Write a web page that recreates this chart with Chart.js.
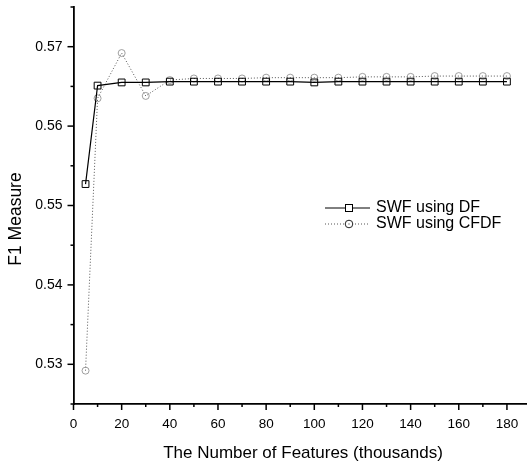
<!DOCTYPE html>
<html>
<head>
<meta charset="utf-8">
<script src="https://cdn.jsdelivr.net/npm/chart.js@4"></script>
<style>
html,body{margin:0;padding:0;background:#fff;}
canvas{display:block;}
</style>
</head>
<body>
<canvas id="c" width="532" height="466"></canvas>
<script>
const features = [5,10,20,30,40,50,60,70,80,90,100,110,120,130,140,150,160,170,180];
const swfDF = [0.5527,0.5651,0.5655,0.5655,0.5656,0.5656,0.5656,0.5656,0.5656,0.5656,0.5655,0.5656,0.5656,0.5656,0.5656,0.5656,0.5656,0.5656,0.5656];
const swfCFDF = [0.5292,0.5635,0.5692,0.5638,0.5658,0.5660,0.5660,0.5660,0.5661,0.5661,0.5661,0.5661,0.5662,0.5662,0.5662,0.5663,0.5663,0.5663,0.5663];
const seriesNames = ['SWF using DF','SWF using CFDF'];
const xTitle = 'The Number of Features (thousands)';
const yTitle = 'F1 Measure';
const xMajorTicks = [0,20,40,60,80,100,120,140,160,180];
const yMajorTicks = [0.53,0.54,0.55,0.56,0.57];

const FONT = '"Liberation Sans", Arial, Helvetica, sans-serif';

const deco = {
  id: 'deco',
  afterDraw(chart) {
    const ctx = chart.ctx;
    const xs = chart.scales.x, ys = chart.scales.y;
    const ca = chart.chartArea;
    ctx.save();
    ctx.strokeStyle = '#000';
    ctx.lineWidth = 1.5;
    // x ticks
    for (let v = 0; v <= 180; v += 10) {
      const px = xs.getPixelForValue(v);
      const major = xMajorTicks.includes(v);
      ctx.beginPath();
      ctx.moveTo(px, ca.bottom);
      ctx.lineTo(px, ca.bottom + (major ? 6 : 3));
      ctx.stroke();
    }
    // y ticks
    for (let i = 0; i <= 10; i++) {
      const v = 0.525 + i * 0.005;
      const py = ys.getPixelForValue(v);
      const major = yMajorTicks.some(t => Math.abs(t - v) < 1e-6);
      ctx.beginPath();
      ctx.moveTo(ca.left, py);
      ctx.lineTo(ca.left - (major ? 6 : 3), py);
      ctx.stroke();
    }
    // titles
    ctx.fillStyle = '#000';
    ctx.font = '17px ' + FONT;
    ctx.textAlign = 'center';
    ctx.textBaseline = 'middle';
    ctx.fillText(xTitle, 303, 453);
    ctx.save();
    ctx.translate(16.5, 219);
    ctx.rotate(-Math.PI / 2);
    ctx.font = '17.5px ' + FONT;
    ctx.fillText(yTitle, 0, 0);
    ctx.restore();
    // legend
    const lx0 = 325, lx1 = 370, mx = 349, rows = [208, 224];
    ctx.lineWidth = 1;
    ctx.strokeStyle = '#000';
    ctx.beginPath();
    ctx.moveTo(lx0, rows[0]); ctx.lineTo(lx1, rows[0]); ctx.stroke();
    ctx.fillStyle = '#fff';
    ctx.fillRect(mx - 3.5, rows[0] - 3.5, 7, 7);
    ctx.strokeRect(mx - 3.5, rows[0] - 3.5, 7, 7);
    ctx.strokeStyle = '#555';
    ctx.setLineDash([1, 2]);
    ctx.beginPath();
    ctx.moveTo(lx0, rows[1]); ctx.lineTo(lx1, rows[1]); ctx.stroke();
    ctx.setLineDash([]);
    ctx.strokeStyle = '#222';
    ctx.beginPath();
    ctx.arc(mx, rows[1], 3.8, 0, Math.PI * 2);
    ctx.fill();
    ctx.stroke();
    ctx.fillStyle = '#222';
    ctx.fillRect(mx - 0.5, rows[1] - 0.5, 1, 1);
    ctx.fillStyle = '#000';
    ctx.font = '16px ' + FONT;
    ctx.textAlign = 'left';
    ctx.textBaseline = 'middle';
    ctx.fillText(seriesNames[0], 376, rows[0]);
    ctx.fillText(seriesNames[1], 376, rows[1]);
    ctx.restore();
  }
};

new Chart(document.getElementById('c'), {
  type: 'line',
  data: {
    datasets: [
      {
        label: seriesNames[0],
        data: features.map((x, i) => ({x: x, y: swfDF[i]})),
        borderColor: '#000',
        borderWidth: 1.2,
        pointStyle: 'rect',
        pointRadius: 4.8,
        pointBorderWidth: 1,
        pointBorderColor: '#000',
        pointBackgroundColor: 'rgba(255,255,255,0)',
        tension: 0,
        fill: false
      },
      {
        label: seriesNames[1],
        data: features.map((x, i) => ({x: x, y: swfCFDF[i]})),
        borderColor: '#555',
        borderWidth: 1,
        borderDash: [1, 2],
        pointStyle: 'circle',
        pointRadius: 3.5,
        pointBorderWidth: 0.8,
        pointBorderColor: '#888',
        pointBackgroundColor: 'rgba(255,255,255,0)',
        tension: 0,
        fill: false
      }
    ]
  },
  options: {
    responsive: false,
    devicePixelRatio: 1,
    animation: false,
    events: [],
    layout: {padding: {left: 0, right: 4, top: 7, bottom: 0}},
    plugins: {legend: {display: false}, tooltip: {enabled: false}},
    scales: {
      x: {
        type: 'linear',
        min: 0,
        max: 188,
        afterFit(s) { s.height = 62; s.paddingLeft = 0; s.paddingRight = 0; },
        border: {display: true, color: '#000', width: 1.8},
        grid: {display: true, drawOnChartArea: false, drawTicks: false, color: 'rgba(0,0,0,0)'},
        ticks: {
          stepSize: 10,
          includeBounds: false,
          autoSkip: false,
          maxRotation: 0,
          padding: 12,
          color: '#000',
          font: {family: FONT, size: 13.5},
          callback: (v) => xMajorTicks.includes(Math.round(v)) && Math.abs(v - Math.round(v)) < 1e-6 ? String(Math.round(v)) : ''
        }
      },
      y: {
        type: 'linear',
        min: 0.525,
        max: 0.575,
        afterFit(s) { s.width = 73.5; s.paddingTop = 0; s.paddingBottom = 0; },
        border: {display: true, color: '#000', width: 1.8},
        grid: {display: true, drawOnChartArea: false, drawTicks: false, color: 'rgba(0,0,0,0)'},
        ticks: {
          stepSize: 0.005,
          includeBounds: false,
          autoSkip: false,
          padding: 11,
          color: '#000',
          font: {family: FONT, size: 14},
          callback: (v) => {
            const m = yMajorTicks.find(t => Math.abs(t - v) < 1e-6);
            return m !== undefined ? m.toFixed(2) : '';
          }
        }
      }
    }
  },
  plugins: [deco]
});
</script>
</body>
</html>
